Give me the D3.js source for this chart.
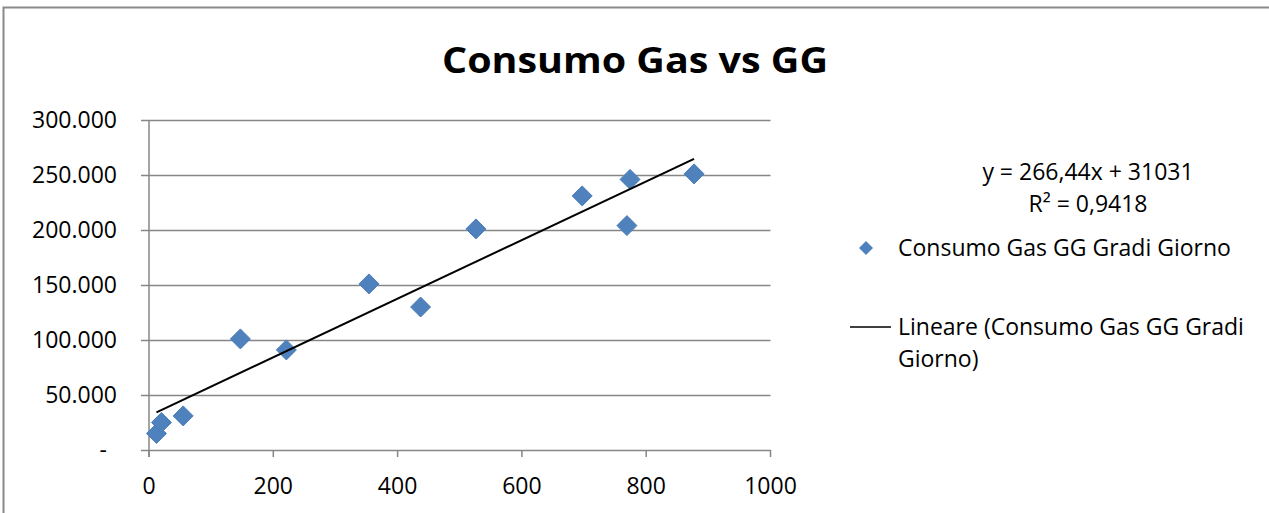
<!DOCTYPE html>
<html><head><meta charset="utf-8">
<script src="https://cdn.jsdelivr.net/npm/d3@7"></script>
<style>body{margin:0;background:#fff}svg{display:block}text{font-family:"Open Sans",sans-serif}</style>
</head><body><svg id="c" width="1269" height="513"></svg>
<script>
const title = "Consumo Gas vs GG";
const seriesName = "Consumo Gas GG Gradi Giorno";
const trendName = ["Lineare (Consumo Gas GG Gradi", "Giorno)"];
const ggValues = [12, 20, 55, 147, 221, 354, 437, 526, 697, 774, 769, 877];
const gasValues = [15000, 25000, 31000, 101000, 91000, 151000, 130000, 201000, 231000, 246000, 204000, 251000];
const xTicks = [0, 200, 400, 600, 800, 1000];
const yTicks = [0, 50000, 100000, 150000, 200000, 250000, 300000];
const trendSlope = 266.44, trendIntercept = 31031;
const eqLines = ["y = 266,44x + 31031", "R² = 0,9418"];

const svg = d3.select("#c");
const grid = "#868686";
const FS = 23;
svg.append("rect").attr("x",3.5).attr("y",7.5).attr("width",1290).attr("height",530)
  .attr("fill","#fff").attr("stroke","#898989").attr("stroke-width",2);

const x = d3.scaleLinear().domain([0,1000]).range([149,770.5]);
const y = d3.scaleLinear().domain([0,300000]).range([450,120]);
const fmtY = v => v === 0 ? "-" : d3.format(",")(v).replace(/,/g,".");

svg.append("g").selectAll("line").data(yTicks).join("line")
  .attr("x1",141).attr("x2",x(1000)).attr("y1",d=>Math.round(y(d))+0.5).attr("y2",d=>Math.round(y(d))+0.5)
  .attr("stroke",grid).attr("stroke-width",1.5);
svg.append("line").attr("x1",x(0)).attr("x2",x(0)).attr("y1",y(300000)).attr("y2",y(0)+7)
  .attr("stroke",grid).attr("stroke-width",1.5);
svg.append("g").selectAll("line").data(xTicks).join("line")
  .attr("x1",d=>x(d)).attr("x2",d=>x(d)).attr("y1",y(0)).attr("y2",y(0)+7)
  .attr("stroke",grid).attr("stroke-width",1.5);
svg.append("g").selectAll("text").data(yTicks).join("text")
  .attr("x",d=>d===0?107:117).attr("y",d=>y(d)).attr("dy","0.35em").attr("text-anchor","end")
  .attr("font-size",FS).attr("fill","#000").text(fmtY);
svg.append("g").selectAll("text").data(xTicks).join("text")
  .attr("x",d=>x(d)).attr("y",486).attr("dy","0.35em").attr("text-anchor","middle")
  .attr("font-size",FS).attr("fill","#000").text(d=>d);

const dia = r => `M0,${-r}L${r},0L0,${r}L${-r},0Z`;
const pts = ggValues.map((v,i)=>({x:v,y:gasValues[i]}));
svg.append("g").selectAll("path").data(pts).join("path")
  .attr("d",dia(10)).attr("transform",d=>`translate(${x(d.x)},${y(d.y)})`)
  .attr("fill","#4F81BD").attr("stroke","#4A7EBB").attr("stroke-width",1);

const xMin = d3.min(ggValues), xMax = d3.max(ggValues);
svg.append("line")
  .attr("x1",x(xMin)).attr("y1",y(trendSlope*xMin+trendIntercept))
  .attr("x2",x(xMax)).attr("y2",y(trendSlope*xMax+trendIntercept))
  .attr("stroke","#000").attr("stroke-width",2);

svg.append("text").attr("x",635).attr("y",61).attr("dy","0.35em").attr("text-anchor","middle")
  .attr("font-size",35).attr("font-weight","bold")
  .attr("textLength",386).attr("lengthAdjust","spacingAndGlyphs").text(title);

svg.append("g").selectAll("text").data(eqLines).join("text")
  .attr("x",1088).attr("y",(d,i)=>172+i*32).attr("dy","0.35em").attr("text-anchor","middle")
  .attr("font-size",FS).text(d=>d);

svg.append("path").attr("d",dia(7)).attr("transform","translate(866,248)").attr("fill","#4F81BD");
svg.append("text").attr("x",898).attr("y",248).attr("dy","0.35em").attr("font-size",FS).text(seriesName);
svg.append("line").attr("x1",850).attr("x2",891).attr("y1",327).attr("y2",327).attr("stroke","#000").attr("stroke-width",1.5);
svg.append("g").selectAll("text").data(trendName).join("text")
  .attr("x",898).attr("y",(d,i)=>327+i*32).attr("dy","0.35em").attr("font-size",FS).text(d=>d);
</script></body></html>
